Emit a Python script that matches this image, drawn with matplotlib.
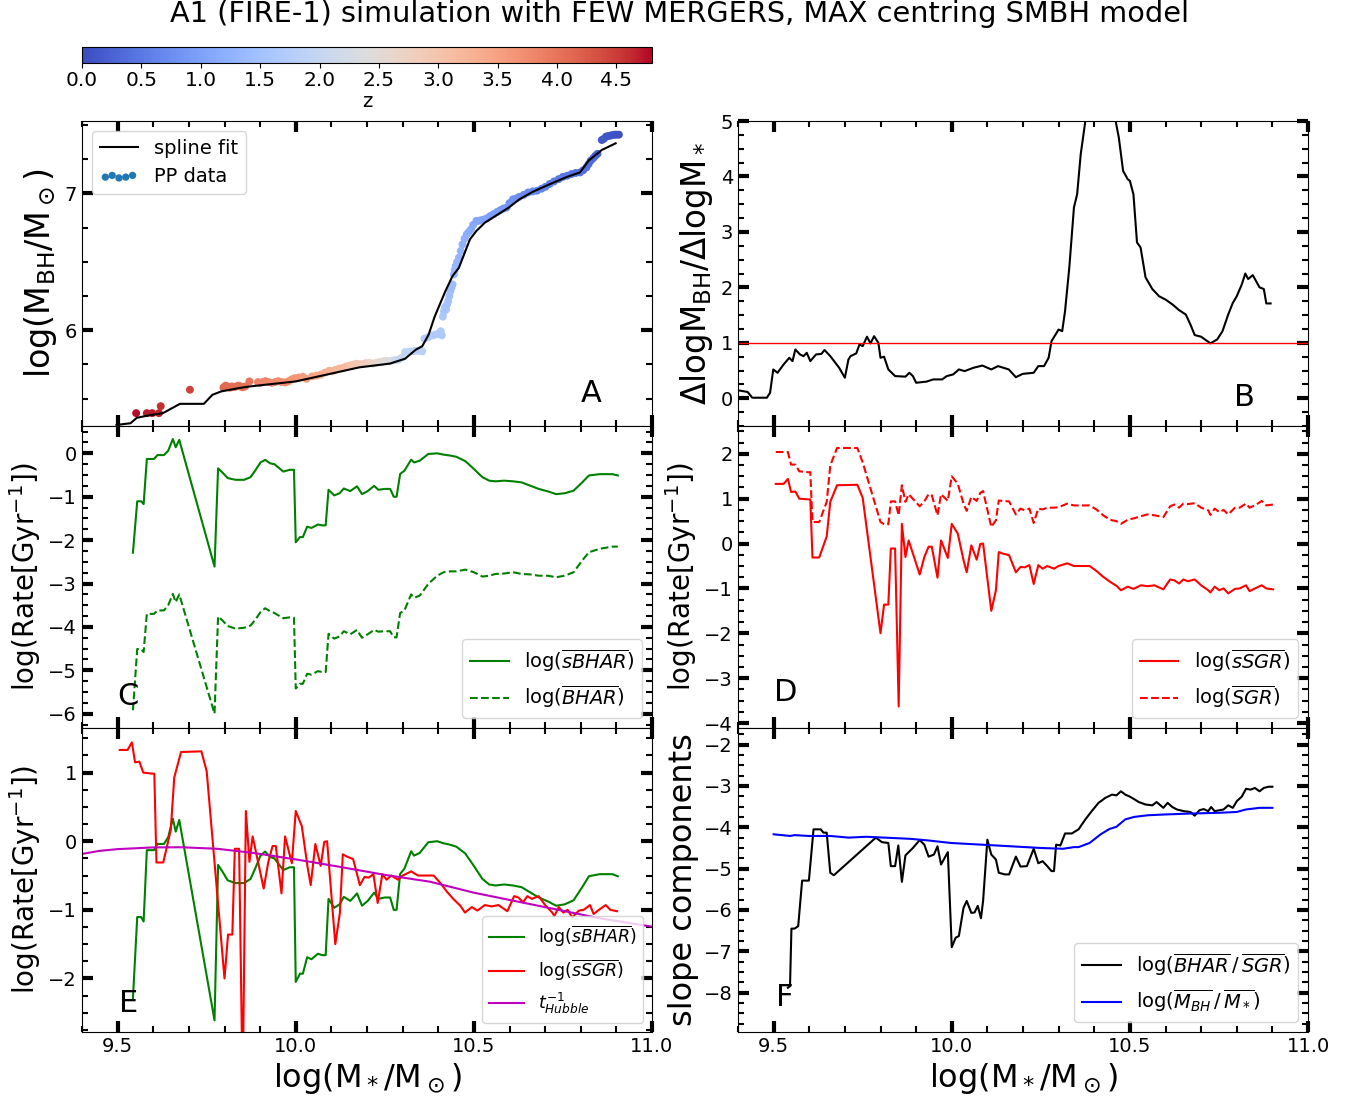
import numpy as np
import matplotlib
matplotlib.use("Agg")
import matplotlib.pyplot as plt
from matplotlib.ticker import MultipleLocator
from matplotlib.lines import Line2D

# ---------------- Panel A: M_BH vs M_* ----------------
spline_x = [9.497, 9.536, 9.554, 9.584, 9.627, 9.675, 9.742, 9.766, 9.791, 9.84, 9.87,
            10.0, 10.094, 10.179, 10.264, 10.307, 10.337, 10.355, 10.373, 10.39, 10.42,
            10.44, 10.458, 10.489, 10.507, 10.531, 10.568, 10.598, 10.628, 10.665, 10.713,
            10.762, 10.798, 10.822, 10.859, 10.898]
spline_y = [5.308, 5.32, 5.36, 5.376, 5.394, 5.462, 5.462, 5.528, 5.553, 5.577, 5.589,
            5.626, 5.68, 5.729, 5.756, 5.792, 5.858, 5.883, 5.968, 6.10, 6.286,
            6.396, 6.457, 6.665, 6.726, 6.787, 6.848, 6.897, 6.958, 7.012, 7.068,
            7.122, 7.154, 7.24, 7.318, 7.367]

pp_x = [9.552, 9.582, 9.597, 9.616, 9.621, 9.703,
        9.797, 9.809, 9.821, 9.833, 9.845, 9.858, 9.870,
        9.803, 9.815, 9.827, 9.839, 9.851,
        9.894, 9.906, 9.924, 9.942, 9.961, 9.979, 9.997, 10.009,
        9.900, 9.915, 9.933, 9.951, 9.970, 9.988, 10.020, 10.030,
        10.046, 10.070, 10.094, 10.112, 10.131, 10.143,
        10.058, 10.082, 10.103, 10.122, 10.137, 10.152,
        10.161, 10.179, 10.197, 10.216,
        10.170, 10.188, 10.206, 10.225,
        10.234, 10.252, 10.270,
        10.243, 10.261, 10.279,
        10.288, 10.307, 10.325, 10.343, 10.355, 10.361, 10.385, 10.407, 10.410,
        10.298, 10.316, 10.334, 10.349, 10.372, 10.395,
        10.416, 10.422, 10.428, 10.434, 10.440, 10.444, 10.449, 10.458, 10.468,
        10.413, 10.419, 10.425, 10.431, 10.437, 10.446, 10.453, 10.463, 10.474,
        10.480, 10.492, 10.507, 10.519, 10.537, 10.555, 10.574, 10.592, 10.610,
        10.486, 10.498, 10.513, 10.528, 10.546, 10.565, 10.583, 10.600, 10.620,
        10.628, 10.652, 10.677, 10.701, 10.725, 10.750, 10.774, 10.798, 10.816,
        10.640, 10.665, 10.690, 10.713, 10.738, 10.762, 10.786, 10.807, 10.822,
        10.828, 10.841, 10.835, 10.847,
        10.859, 10.871, 10.883, 10.895, 10.907,
        10.865, 10.877, 10.889, 10.901]
pp_y = [5.394, 5.394, 5.394, 5.394, 5.445, 5.565,
        5.582, 5.589, 5.589, 5.589, 5.589, 5.589, 5.626,
        5.595, 5.580, 5.585, 5.595, 5.583,
        5.621, 5.621, 5.621, 5.621, 5.621, 5.626, 5.650, 5.655,
        5.615, 5.628, 5.615, 5.628, 5.618, 5.640, 5.660, 5.645,
        5.663, 5.675, 5.704, 5.711, 5.724, 5.736,
        5.668, 5.690, 5.700, 5.720, 5.728, 5.742,
        5.748, 5.753, 5.760, 5.756,
        5.755, 5.752, 5.762, 5.762,
        5.768, 5.778, 5.778,
        5.772, 5.775, 5.782,
        5.785, 5.841, 5.846, 5.851, 5.846, 5.939, 5.963, 5.993, 5.963,
        5.800, 5.842, 5.848, 5.850, 5.950, 5.970,
        6.139, 6.152, 6.213, 6.286, 6.335, 6.408, 6.469, 6.531, 6.628,
        6.100, 6.170, 6.190, 6.250, 6.310, 6.440, 6.500, 6.580, 6.670,
        6.702, 6.738, 6.800, 6.804, 6.819, 6.848, 6.878, 6.897, 6.958,
        6.720, 6.770, 6.800, 6.810, 6.835, 6.865, 6.890, 6.930, 6.965,
        6.976, 7.007, 7.020, 7.049, 7.088, 7.122, 7.142, 7.154, 7.191,
        6.990, 7.015, 7.035, 7.070, 7.105, 7.130, 7.150, 7.170, 7.215,
        7.240, 7.276, 7.258, 7.290,
        7.391, 7.416, 7.423, 7.430, 7.430,
        7.400, 7.420, 7.427, 7.430]
pp_z = [4.75, 4.7, 4.7, 4.65, 4.6, 4.45,
        4.15, 4.1, 4.1, 4.05, 4.05, 4.0, 4.0,
        4.12, 4.1, 4.08, 4.05, 4.02,
        3.85, 3.8, 3.8, 3.75, 3.75, 3.7, 3.65, 3.6,
        3.82, 3.8, 3.78, 3.75, 3.72, 3.66, 3.58, 3.55,
        3.5, 3.4, 3.3, 3.25, 3.2, 3.1,
        3.45, 3.35, 3.28, 3.22, 3.15, 3.05,
        3.0, 2.9, 2.8, 2.7,
        2.95, 2.85, 2.75, 2.62,
        2.55, 2.4, 2.25,
        2.48, 2.32, 2.15,
        2.05, 1.95, 1.9, 1.85, 1.8, 1.75, 1.7, 1.65, 1.65,
        2.0, 1.92, 1.88, 1.82, 1.72, 1.68,
        1.55, 1.55, 1.5, 1.45, 1.4, 1.38, 1.35, 1.3, 1.25,
        1.58, 1.55, 1.52, 1.47, 1.42, 1.36, 1.32, 1.28, 1.22,
        1.2, 1.15, 1.1, 1.05, 1.0, 0.95, 0.9, 0.85, 0.8,
        1.18, 1.12, 1.08, 1.02, 0.97, 0.92, 0.87, 0.82, 0.78,
        0.75, 0.7, 0.65, 0.6, 0.55, 0.5, 0.45, 0.42, 0.4,
        0.72, 0.68, 0.62, 0.58, 0.52, 0.48, 0.43, 0.41, 0.37,
        0.35, 0.3, 0.32, 0.28,
        0.15, 0.12, 0.1, 0.07, 0.05,
        0.14, 0.11, 0.08, 0.06]

# ---------------- Panel B: local slope ----------------
slope_x = [9.40, 9.427, 9.44, 9.481, 9.49, 9.499, 9.511, 9.528, 9.544, 9.553, 9.561, 9.574,
           9.584, 9.593, 9.603, 9.619, 9.634, 9.643, 9.659, 9.684, 9.70, 9.71, 9.716,
           9.732, 9.741, 9.75, 9.762, 9.772, 9.782, 9.794, 9.80, 9.81, 9.822, 9.841,
           9.87, 9.881, 9.891, 9.90, 9.929, 9.948, 9.973, 9.986, 10.004, 10.02, 10.036,
           10.061, 10.086, 10.111, 10.13, 10.16, 10.18, 10.199, 10.23, 10.243, 10.259,
           10.272, 10.28, 10.30, 10.31, 10.318, 10.33, 10.343, 10.352, 10.362, 10.375,
           10.39, 10.415, 10.44, 10.46, 10.469, 10.481, 10.494, 10.50, 10.51, 10.52,
           10.53, 10.544, 10.563, 10.582, 10.60, 10.62, 10.638, 10.657, 10.67, 10.682,
           10.70, 10.713, 10.726, 10.745, 10.76, 10.776, 10.789, 10.80, 10.814, 10.824,
           10.832, 10.845, 10.864, 10.876, 10.883, 10.895]
slope_y = [0.144, 0.114, 0.01, 0.01, 0.10, 0.52, 0.46, 0.61, 0.73, 0.67, 0.88, 0.79,
           0.76, 0.82, 0.67, 0.79, 0.80, 0.87, 0.76, 0.55, 0.37, 0.70, 0.76,
           0.81, 0.97, 0.94, 1.11, 0.99, 1.12, 1.0, 0.73, 0.75, 0.52, 0.40,
           0.39, 0.46, 0.40, 0.28, 0.30, 0.34, 0.34, 0.40, 0.43, 0.52, 0.49,
           0.55, 0.59, 0.52, 0.58, 0.52, 0.38, 0.44, 0.46, 0.58, 0.58,
           0.73, 1.03, 1.24, 1.21, 1.57, 2.36, 3.44, 3.68, 4.40, 5.0,
           5.6, 6.0, 5.7, 5.0, 4.70, 4.10, 3.95, 3.92, 3.68, 2.81,
           2.72, 2.18, 1.97, 1.84, 1.78, 1.69, 1.59, 1.51, 1.33, 1.14,
           1.11, 1.05, 0.99, 1.06, 1.21, 1.51, 1.72, 1.84, 2.05, 2.25,
           2.15, 2.22, 2.0, 1.97, 1.71, 1.71]

# ---------------- Panels C / E: black-hole accretion ----------------
bh_x = [9.543, 9.555, 9.566, 9.573, 9.582, 9.602, 9.612, 9.63, 9.642, 9.655, 9.663, 9.673,
        9.772, 9.782, 9.794, 9.809, 9.831, 9.855, 9.873, 9.886, 9.901, 9.914, 9.928, 9.94,
        9.965, 9.983, 9.995, 10.0, 10.012, 10.02, 10.032, 10.044, 10.062, 10.074, 10.084,
        10.092, 10.108, 10.123, 10.135, 10.153, 10.172, 10.186, 10.202, 10.22, 10.232,
        10.25, 10.265, 10.275, 10.283, 10.293, 10.305, 10.324, 10.332, 10.348, 10.372,
        10.397, 10.415, 10.433, 10.451, 10.476, 10.50, 10.524, 10.543, 10.561, 10.585,
        10.61, 10.634, 10.658, 10.682, 10.707, 10.731, 10.755, 10.78, 10.804, 10.823,
        10.853, 10.889, 10.904]
sbhar = [-2.29, -1.105, -1.105, -1.17, -0.13, -0.13, -0.04, -0.04, 0.06, 0.33, 0.14, 0.31,
         -2.61, -0.345, -0.44, -0.57, -0.61, -0.61, -0.55, -0.40, -0.21, -0.15, -0.23, -0.25,
         -0.42, -0.38, -0.38, -2.05, -1.93, -1.93, -1.69, -1.72, -1.64, -1.66, -1.66,
         -0.84, -0.97, -0.92, -0.81, -0.87, -0.76, -0.94, -0.87, -0.75, -0.84,
         -0.82, -0.82, -1.0, -1.0, -0.476, -0.40, -0.146, -0.21, -0.17, -0.015,
         0.0, -0.03, -0.05, -0.08, -0.18, -0.36, -0.55, -0.63, -0.645, -0.63,
         -0.645, -0.67, -0.745, -0.82, -0.875, -0.94, -0.92, -0.86, -0.67, -0.51,
         -0.48, -0.48, -0.51]
bhar = [-5.92, -4.51, -4.51, -4.58, -3.70, -3.70, -3.62, -3.62, -3.50, -3.24, -3.43, -3.25,
        -6.00, -3.76, -3.85, -3.98, -4.04, -4.02, -3.97, -3.84, -3.66, -3.57, -3.64, -3.68,
        -3.80, -3.78, -3.79, -5.42, -5.31, -5.31, -5.08, -5.10, -5.02, -5.04, -5.04,
        -4.16, -4.27, -4.22, -4.10, -4.17, -4.07, -4.25, -4.17, -4.07, -4.11,
        -4.10, -4.10, -4.24, -4.24, -3.68, -3.62, -3.25, -3.33, -3.28, -3.01,
        -2.82, -2.74, -2.72, -2.72, -2.68, -2.74, -2.84, -2.82, -2.78, -2.77,
        -2.74, -2.78, -2.79, -2.82, -2.82, -2.855, -2.82, -2.74, -2.47, -2.28,
        -2.20, -2.15, -2.15]

# ---------------- Panels D / E: star formation ----------------
sf_x = [9.506, 9.528, 9.54, 9.549, 9.561, 9.572, 9.597, 9.603, 9.609, 9.628, 9.649, 9.659,
        9.678, 9.735, 9.75, 9.80, 9.81, 9.822, 9.829, 9.841, 9.851, 9.86, 9.87, 9.879,
        9.91, 9.923, 9.935, 9.944, 9.96, 9.97, 9.989, 10.0, 10.017, 10.033, 10.042,
        10.055, 10.07, 10.08, 10.088, 10.111, 10.124, 10.132, 10.142, 10.161, 10.18,
        10.193, 10.205, 10.218, 10.23, 10.243, 10.255, 10.268, 10.287, 10.30, 10.324,
        10.343, 10.387, 10.406, 10.425, 10.444, 10.462, 10.475, 10.494, 10.51, 10.531,
        10.55, 10.569, 10.594, 10.613, 10.625, 10.638, 10.65, 10.663, 10.682, 10.70,
        10.72, 10.726, 10.738, 10.751, 10.763, 10.776, 10.795, 10.808, 10.826, 10.836,
        10.851, 10.87, 10.883, 10.902]
ssgr = [1.33, 1.33, 1.44, 1.15, 1.16, 1.0, 0.985, 0.985, -0.31, -0.31, 0.16, 0.93,
        1.30, 1.31, 1.02, -2.0, -1.36, -1.36, -0.11, -0.11, -3.63, 0.44, -0.30, 0.07,
        -0.69, -0.30, -0.07, -0.07, -0.76, 0.07, -0.32, 0.44, 0.22, -0.37, -0.64,
        -0.04, -0.36, -0.01, 0.0, -1.50, -1.04, -0.19, -0.22, -0.26, -0.64,
        -0.52, -0.53, -0.48, -0.90, -0.48, -0.56, -0.50, -0.56, -0.50, -0.44,
        -0.50, -0.50, -0.61, -0.74, -0.85, -0.94, -1.04, -0.96, -1.01, -0.93,
        -0.95, -0.93, -1.02, -0.80, -0.82, -0.89, -0.80, -0.84, -0.80, -0.93,
        -1.04, -1.09, -0.96, -1.04, -1.00, -1.11, -1.01, -1.00, -0.93, -1.06,
        -1.00, -0.93, -1.00, -1.02]
sgr = [2.04, 2.04, 2.04, 1.76, 1.76, 1.61, 1.59, 1.59, 0.48, 0.48, 0.93, 1.74,
       2.13, 2.13, 1.81, 0.48, 0.43, 0.43, 0.94, 0.94, 0.63, 1.30, 0.93, 1.10,
       0.83, 0.94, 1.10, 1.08, 0.63, 1.10, 0.95, 1.50, 1.33, 0.89, 0.73,
       1.04, 0.95, 1.13, 1.17, 0.37, 0.52, 0.96, 0.95, 0.94, 0.65,
       0.78, 0.74, 0.78, 0.46, 0.78, 0.76, 0.80, 0.80, 0.81, 0.89,
       0.85, 0.85, 0.76, 0.63, 0.53, 0.50, 0.44, 0.53, 0.56, 0.61,
       0.65, 0.63, 0.59, 0.83, 0.87, 0.80, 0.89, 0.88, 0.90, 0.80,
       0.74, 0.64, 0.78, 0.70, 0.75, 0.65, 0.80, 0.80, 0.89, 0.80,
       0.85, 0.95, 0.85, 0.87]

# inverse Hubble time
hub_x = [9.40, 9.45, 9.50, 9.60, 9.68, 9.78, 9.88, 10.0, 10.12, 10.25, 10.377, 10.5,
         10.69, 10.85, 11.0]
hub_y = [-0.185, -0.14, -0.115, -0.09, -0.088, -0.11, -0.17, -0.265, -0.37, -0.49, -0.59,
         -0.75, -0.95, -1.12, -1.245]

# ---------------- Panel F: slope components ----------------
ratio_x = [9.54, 9.546, 9.55, 9.559, 9.569, 9.58, 9.599, 9.612, 9.632, 9.64, 9.649, 9.659,
           9.669, 9.787, 9.804, 9.822, 9.829, 9.841, 9.85, 9.86, 9.87, 9.891, 9.91, 9.923,
           9.935, 9.95, 9.96, 9.97, 9.989, 10.0, 10.011, 10.02, 10.033, 10.042, 10.055,
           10.064, 10.073, 10.082, 10.088, 10.10, 10.111, 10.124, 10.132, 10.149, 10.161,
           10.18, 10.193, 10.211, 10.23, 10.243, 10.255, 10.268, 10.28, 10.287, 10.293,
           10.305, 10.318, 10.337, 10.356, 10.375, 10.393, 10.412, 10.431, 10.45, 10.462,
           10.475, 10.487, 10.50, 10.512, 10.525, 10.544, 10.563, 10.575, 10.594, 10.606,
           10.619, 10.632, 10.651, 10.67, 10.682, 10.695, 10.707, 10.72, 10.728, 10.738,
           10.751, 10.763, 10.776, 10.789, 10.80, 10.814, 10.826, 10.839, 10.851, 10.864,
           10.876, 10.889, 10.90]
ratio_y = [-7.88, -7.84, -6.45, -6.45, -6.39, -5.29, -5.29, -4.05, -4.05, -4.13, -4.13, -5.10,
           -5.16, -4.25, -4.36, -4.38, -4.94, -4.94, -4.44, -5.32, -4.68, -4.50, -4.31, -4.42,
           -4.71, -4.66, -4.46, -4.90, -4.60, -6.90, -6.67, -6.63, -5.95, -5.78, -6.07,
           -6.06, -5.90, -6.20, -5.78, -4.30, -4.66, -4.78, -5.10, -5.14, -5.14,
           -4.71, -4.95, -4.94, -4.52, -4.87, -4.82, -4.94, -5.06, -5.06, -4.42,
           -4.44, -4.15, -4.15, -4.05, -3.81, -3.61, -3.41, -3.29, -3.21, -3.23,
           -3.13, -3.21, -3.26, -3.32, -3.39, -3.45, -3.47, -3.39, -3.53, -3.41,
           -3.51, -3.57, -3.61, -3.63, -3.72, -3.59, -3.56, -3.61, -3.51, -3.61,
           -3.59, -3.57, -3.47, -3.53, -3.37, -3.26, -3.07, -3.09, -3.05, -3.13,
           -3.05, -3.02, -3.02]
mass_x = [9.50, 9.546, 9.559, 9.597, 9.659, 9.71, 9.76, 9.835, 9.885, 9.935, 9.998, 10.061,
          10.124, 10.186, 10.249, 10.312, 10.343, 10.356, 10.387, 10.418, 10.443, 10.462,
          10.487, 10.512, 10.55, 10.60, 10.663, 10.751, 10.80, 10.826, 10.864, 10.90]
mass_y = [-4.17, -4.21, -4.19, -4.21, -4.21, -4.25, -4.23, -4.26, -4.28, -4.32, -4.38, -4.41,
          -4.44, -4.47, -4.50, -4.52, -4.48, -4.48, -4.38, -4.17, -4.04, -3.99,
          -3.81, -3.75, -3.71, -3.69, -3.67, -3.65, -3.63, -3.57, -3.53, -3.53]

# ---------------- figure ----------------
plt.rcParams['font.family'] = ['DejaVu Sans']
plt.rcParams['mathtext.fontset'] = 'dejavusans'

fig = plt.figure(figsize=(13.6, 11.02), dpi=100)
W, H = 1360.0, 1102.0


def box(x0, y0, x1, y1):
    return [x0 / W, 1 - y1 / H, (x1 - x0) / W, (y1 - y0) / H]


axA = fig.add_axes(box(82, 121, 652, 426))
axC = fig.add_axes(box(82, 426, 652, 728), sharex=axA)
axE = fig.add_axes(box(82, 728, 652, 1032), sharex=axA)
axB = fig.add_axes(box(738, 121, 1308, 426))
axD = fig.add_axes(box(738, 426, 1308, 728), sharex=axB)
axF = fig.add_axes(box(738, 728, 1308, 1032), sharex=axB)
cax = fig.add_axes(box(82, 47, 652, 63))

for ax in (axA, axB, axC, axD, axE, axF):
    ax.set_xlim(9.4, 11.0)
    ax.xaxis.set_major_locator(MultipleLocator(0.5))
    ax.xaxis.set_minor_locator(MultipleLocator(0.1))
    ax.yaxis.set_major_locator(MultipleLocator(1))
    ax.yaxis.set_minor_locator(MultipleLocator(0.25))
    ax.tick_params(which='both', direction='in', top=True, right=True)
    ax.tick_params(which='major', length=8, width=3, labelsize=14)
    ax.tick_params(which='minor', length=4, width=1.5)

for ax in (axA, axB, axC, axD):
    ax.tick_params(labelbottom=False)

panel_kw = dict(fontsize=22, ha='center', va='center')

# A
sc = axA.scatter(pp_x, pp_y, c=pp_z, cmap='coolwarm', vmin=0, vmax=4.8, s=22, zorder=2)
axA.plot(spline_x, spline_y, color='black', lw=1.5, zorder=3)
axA.set_ylim(5.30, 7.53)
axA.set_ylabel(r'$\rm log(M_{BH}/M_\odot)$', fontsize=24)
axA.text(0.893, 0.108, 'A', transform=axA.transAxes, **panel_kw)
hA = [Line2D([], [], color='black', lw=1.5),
      axA.scatter([], [], color='#1f77b4', s=18)]
axA.legend(hA, ['spline fit', 'PP data'], loc='upper left', fontsize=14,
           scatterpoints=5, scatteryoffsets=[0.375, 0.5, 0.3125])

cb = fig.colorbar(sc, cax=cax, orientation='horizontal')
cb.set_ticks(np.arange(0, 4.6, 0.5))
cb.ax.tick_params(labelsize=14.5, pad=2)
cb.set_label('z', fontsize=14, labelpad=2)

# B
axB.plot(slope_x, slope_y, color='black', lw=1.5)
axB.axhline(1.0, color='red', lw=1)
axB.set_ylim(-0.5, 5)
axB.set_ylabel(r'$\rm \Delta log M_{BH}/\Delta log M_*$', fontsize=23.5)
axB.text(0.889, 0.095, 'B', transform=axB.transAxes, **panel_kw)

# C
axC.plot(bh_x, sbhar, color='green', lw=1.5, label=r'log($\overline{sBHAR}$)')
axC.plot(bh_x, bhar, color='green', lw=1.5, ls='--', label=r'log($\overline{BHAR}$)')
axC.set_ylim(-6.33, 0.63)
axC.set_ylabel(r'$\rm log(Rate[Gyr^{-1}])$', fontsize=20)
axC.text(0.081, 0.103, 'C', transform=axC.transAxes, **panel_kw)
axC.legend(loc='lower right', fontsize=14)

# D
axD.plot(sf_x, ssgr, color='red', lw=1.5, label=r'log($\overline{sSGR}$)')
axD.plot(sf_x, sgr, color='red', lw=1.5, ls='--', label=r'log($\overline{SGR}$)')
axD.set_ylim(-4.11, 2.62)
axD.set_ylabel(r'$\rm log(Rate[Gyr^{-1}])$', fontsize=20)
axD.text(0.084, 0.119, 'D', transform=axD.transAxes, **panel_kw)
axD.legend(loc='lower right', fontsize=14)

# E
axE.plot(bh_x, sbhar, color='green', lw=1.5, label=r'log($\overline{sBHAR}$)')
axE.plot(sf_x, ssgr, color='red', lw=1.5, label=r'log($\overline{sSGR}$)')
axE.plot(hub_x, hub_y, color='m', lw=1.5, label=r'$t_{Hubble}^{-1}$')
axE.set_ylim(-2.78, 1.65)
axE.set_ylabel(r'$\rm log(Rate[Gyr^{-1}])$', fontsize=20)
axE.set_xlabel(r'$\rm log(M_*/M_\odot)$', fontsize=23)
axE.text(0.081, 0.095, 'E', transform=axE.transAxes, **panel_kw)
axE.legend(loc='lower right', fontsize=12.5)

# F
axF.plot(ratio_x, ratio_y, color='black', lw=1.5,
         label=r'log($\overline{BHAR}\,/\,\overline{SGR}$)')
axF.plot(mass_x, mass_y, color='blue', lw=1.5,
         label=r'log($\overline{M_{BH}}\,/\,\overline{M_*}$)')
axF.set_ylim(-8.95, -1.6)
axF.set_ylabel('slope components', fontsize=23)
axF.set_xlabel(r'$\rm log(M_*/M_\odot)$', fontsize=23)
axF.text(0.082, 0.115, 'F', transform=axF.transAxes, **panel_kw)
axF.legend(loc='lower right', fontsize=14)

fig.suptitle('A1 (FIRE-1) simulation with FEW MERGERS, MAX centring SMBH model',
             fontsize=20.7, y=1 - 14 / H, va='center')

fig.savefig('out.png', dpi=100)
